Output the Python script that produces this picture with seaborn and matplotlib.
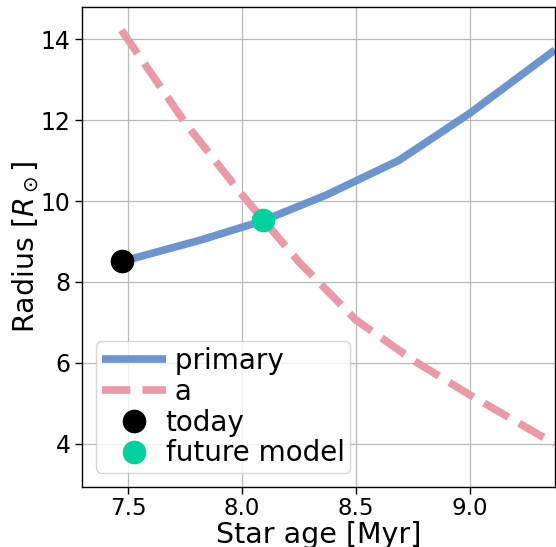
import matplotlib
matplotlib.use("Agg")
import matplotlib.pyplot as plt
import seaborn as sns
import pandas as pd

age_primary = [7.50, 7.82, 8.09, 8.37, 8.69, 9.00, 9.373]
radius_primary = [8.55, 9.04, 9.51, 10.15, 11.01, 12.17, 13.73]
age_a = [7.47, 7.75, 8.00, 8.25, 8.50, 8.75, 9.00, 9.373]
radius_a = [14.22, 11.93, 10.15, 8.49, 7.06, 6.07, 5.21, 4.0]
today = (7.474, 8.52)
future = (8.092, 9.52)
labels = [" primary", " a", "today", "future model"]

sns.set_style("white")
plt.rcParams['font.family'] = ['DejaVu Sans']
plt.rcParams['text.color'] = 'black'
plt.rcParams['axes.labelcolor'] = 'black'
plt.rcParams['lines.solid_capstyle'] = 'butt'
fig, ax = plt.subplots(figsize=(5.56, 5.47), dpi=100)

df1 = pd.DataFrame({"x": age_primary, "y": radius_primary})
df2 = pd.DataFrame({"x": age_a, "y": radius_a})
sns.lineplot(data=df1, x="x", y="y", ax=ax, color="#6c95cf", lw=5.5, label=labels[0], sort=False)
sns.lineplot(data=df2, x="x", y="y", ax=ax, color="#eb98a7", lw=5.5, label=labels[1], sort=False,
             linestyle="--")
ax.plot([today[0]], [today[1]], 'o', color='black', ms=16, label=labels[2], zorder=5)
ax.plot([future[0]], [future[1]], 'o', color='#00d19e', ms=16, label=labels[3], zorder=5)

ax.set_xlim(7.298, 9.373)
ax.set_ylim(2.94, 14.79)
ax.set_xticks([7.5, 8.0, 8.5, 9.0])
ax.set_yticks([4, 6, 8, 10, 12, 14])
ax.grid(True, color="#b8b8b8", lw=0.9)
for s in ax.spines.values():
    s.set_color("black")
    s.set_linewidth(1.0)
ax.tick_params(axis='both', labelsize=17, length=5, width=1, direction='out', bottom=True, left=True,
               colors='black', labelcolor='black')
ax.tick_params(axis='x', labelsize=16.5, pad=2)
ax.set_xlabel("Star age [Myr]", fontsize=20.5, color='black')
ax.xaxis.set_label_coords(0.5, -0.071)
ax.set_ylabel(r"Radius [$R_\odot$]", fontsize=20.5, labelpad=0, color='black')
leg = ax.legend(loc="lower left", fontsize=20, handlelength=2.3, borderpad=0.2, labelspacing=0.1,
                handletextpad=0.0, framealpha=0.8)
for t in leg.get_texts():
    t.set_color('black')

fig.subplots_adjust(left=0.148, right=0.998, top=0.987, bottom=0.11)
fig.savefig("out.png", dpi=100)
